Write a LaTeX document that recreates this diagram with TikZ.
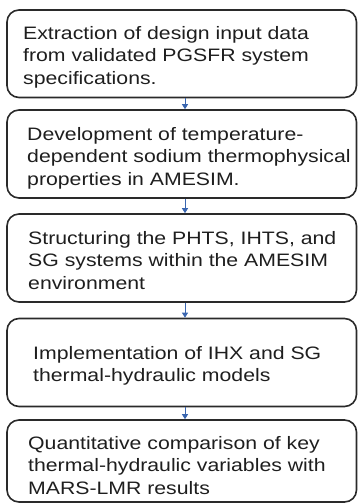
\documentclass[tikz,border=0pt]{standalone}
\usepackage{fontspec}
\setmainfont[FakeStretch=1.18]{Liberation Sans}
\usetikzlibrary{arrows.meta}
\definecolor{arrowblue}{HTML}{3A66B0}
\definecolor{boxline}{HTML}{2A2A2A}
\definecolor{txtcol}{HTML}{1E1E1E}
\tikzset{
  stepbox/.style={draw=boxline, line width=1.6pt, rounded corners=12pt,
    minimum width=349.5pt, inner sep=0pt},
  steptext/.style={anchor=base west, align=left, inner sep=0pt, text=txtcol,
    font=\fontsize{18pt}{22.5pt}\selectfont},
  flow/.style={draw=arrowblue, line width=0.9pt,
    -{Triangle[width=6pt,length=5pt]}}
}
\begin{document}
\begin{tikzpicture}[x=1pt,y=-1pt]
\useasboundingbox (0,0) rectangle (358,504);
\node[stepbox, minimum height=87.5pt] (b1) at (181.75,53.75) {};
\node[stepbox, minimum height=88pt] (b2) at (181.75,154) {};
\node[stepbox, minimum height=88pt] (b3) at (181.75,258) {};
\node[stepbox, minimum height=88pt] (b4) at (181.75,362.5) {};
\node[stepbox, minimum height=82pt] (b5) at (181.75,461) {};

% base anchor = baseline of the last line
\node[steptext] (t1) at (23,84) {Extraction of design input data\\from validated PGSFR system\\specifications.};
\node[steptext] (t2) at (27,185) {Development of temperature-\\dependent sodium thermophysical\\properties in AMESIM.};
\node[steptext] (t3) at (28,289) {Structuring the PHTS, IHTS, and\\SG systems within the AMESIM\\environment};
\node[steptext] (t4) at (33,381.5) {Implementation of IHX and SG\\thermal-hydraulic models};
\node[steptext] (t5) at (28,494) {Quantitative comparison of key\\thermal-hydraulic variables with\\MARS-LMR results};

\draw[flow] ([xshift=3.25pt]b1.south) -- ([xshift=3.25pt]b2.north);
\draw[flow] ([xshift=3.25pt]b2.south) -- ([xshift=3.25pt]b3.north);
\draw[flow] ([xshift=3.25pt]b3.south) -- ([xshift=3.25pt]b4.north);
\draw[flow] ([xshift=3.25pt]b4.south) -- ([xshift=3.25pt]b5.north);
\end{tikzpicture}
\end{document}
